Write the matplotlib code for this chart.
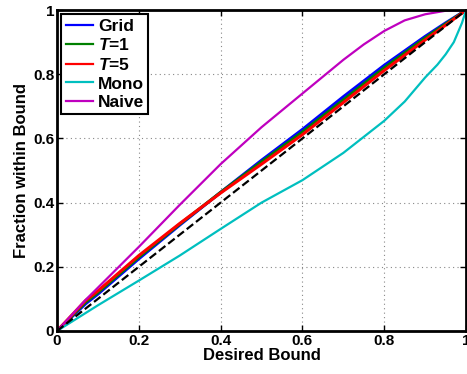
import matplotlib
matplotlib.use("Agg")
import matplotlib.pyplot as plt
import numpy as np

plt.rcParams['font.family'] = ['Liberation Sans', 'DejaVu Sans']
plt.rcParams['font.weight'] = 'bold'
plt.rcParams['mathtext.fontset'] = 'custom'
plt.rcParams['mathtext.it'] = 'Liberation Sans:italic:bold'

# values
x_grid = [0, 0.07, 0.1, 0.2, 0.3, 0.4, 0.5, 0.6, 0.7, 0.8, 0.9, 0.95, 1.0]
grid_vals = [0, 0.085, 0.115, 0.225, 0.33, 0.432, 0.532, 0.628, 0.73, 0.828, 0.918, 0.96, 1.0]
t1_vals = [0, 0.09, 0.12, 0.23, 0.333, 0.432, 0.527, 0.62, 0.72, 0.82, 0.913, 0.957, 1.0]
t5_vals = [0, 0.095, 0.125, 0.235, 0.335, 0.43, 0.52, 0.612, 0.712, 0.812, 0.907, 0.953, 1.0]

x_mono = [0, 0.07, 0.1, 0.2, 0.3, 0.4, 0.5, 0.6, 0.7, 0.8, 0.85, 0.9, 0.93, 0.95, 0.97, 0.98, 0.99, 1.0]
mono_vals = [0, 0.056, 0.08, 0.157, 0.235, 0.318, 0.40, 0.47, 0.555, 0.655, 0.715, 0.79, 0.83, 0.862, 0.9, 0.93, 0.96, 1.0]

x_naive = [0, 0.07, 0.1, 0.2, 0.3, 0.4, 0.5, 0.6, 0.7, 0.75, 0.8, 0.85, 0.9, 0.95, 1.0]
naive_vals = [0, 0.097, 0.135, 0.262, 0.393, 0.52, 0.635, 0.74, 0.845, 0.893, 0.935, 0.968, 0.987, 0.998, 1.0]

diag = [0, 1]

fig = plt.figure(figsize=(4.67, 3.74), dpi=100)
ax = fig.add_axes([0.122, 0.115, 0.876, 0.858])

ax.plot(x_grid, grid_vals, color='#0000ff', lw=2.2, label='Grid')
ax.plot(x_grid, t1_vals, color='#008000', lw=2.2, label='$T$=1')
ax.plot(x_grid, t5_vals, color='#ff0000', lw=2.2, label='$T$=5')
ax.plot(x_mono, mono_vals, color='#00bfbf', lw=1.6, label='Mono')
ax.plot(x_naive, naive_vals, color='#bf00bf', lw=1.6, label='Naive')
ax.plot(diag, diag, 'k--', lw=1.6)

ax.set_xlim(0, 1)
ax.set_ylim(0, 1)
ax.set_xticks([0, 0.2, 0.4, 0.6, 0.8, 1])
ax.set_yticks([0, 0.2, 0.4, 0.6, 0.8, 1])
ax.set_xticklabels(['0', '0.2', '0.4', '0.6', '0.8', '1'])
ax.set_yticklabels(['0', '0.2', '0.4', '0.6', '0.8', '1'])
ax.tick_params(direction='in', top=True, right=True, labelsize=11, length=4, width=1, pad=2)
ax.grid(True, color='#888888', linestyle=(0, (1, 3)), lw=0.8)
for s in ax.spines.values():
    s.set_linewidth(2)

ax.set_xlabel('Desired Bound', fontsize=12, fontweight='bold', labelpad=0)
ax.set_ylabel('Fraction within Bound', fontsize=12, fontweight='bold', labelpad=3)

leg = ax.legend(loc='upper left', fontsize=12.5, handlelength=1.6, handletextpad=0.25,
                borderpad=0.25, labelspacing=0.2, fancybox=False, framealpha=1,
                borderaxespad=0.25)
leg.get_frame().set_edgecolor('black')
leg.get_frame().set_linewidth(1.5)
for line in leg.get_lines():
    line.set_linewidth(1.6)

fig.savefig('out.png', dpi=100)
